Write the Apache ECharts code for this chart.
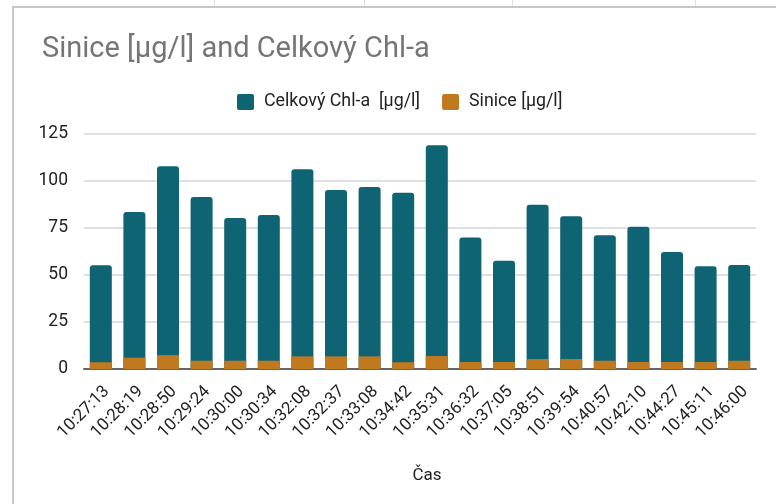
<!DOCTYPE html>
<html><head><meta charset="utf-8">
<script src="https://cdn.jsdelivr.net/npm/echarts@6/dist/echarts.min.js"></script>
<style>html,body{margin:0;padding:0;background:#fff}#c{width:776px;height:504px}</style>
</head><body><div id="c"></div>
<script>
var categories = ["10:27:13","10:28:19","10:28:50","10:29:24","10:30:00","10:30:34","10:32:08","10:32:37","10:33:08","10:34:42","10:35:31","10:36:32","10:37:05","10:38:51","10:39:54","10:40:57","10:42:10","10:44:27","10:45:11","10:46:00"];
var chlA = [55.2,83.5,107.8,91.5,80.3,81.9,106.2,95.2,96.8,93.8,119,70,57.6,87.4,81.2,71.1,75.7,62.2,54.6,55.3];
var sinice = [3.6,6.0,7.4,4.4,4.4,4.4,6.7,6.7,6.7,3.6,6.9,3.7,3.7,5.3,5.3,4.4,3.7,3.7,3.7,4.4];
var yTicks = [0,25,50,75,100,125];

var chart = echarts.init(document.getElementById('c'), null, {renderer:'canvas'});
var F = 'Roboto, "Noto Sans", sans-serif';
var ICON = 'path://M2,0 H15 A2,2 0 0 1 17,2 V14 A2,2 0 0 1 15,16 H2 A2,2 0 0 1 0,14 V2 A2,2 0 0 1 2,0 Z';
chart.setOption({
  animation:false,
  backgroundColor:'#fff',
  title:{text:'Sinice [µg/l] and Celkový Chl-a', left:37, top:30,
    textStyle:{fontFamily:F, fontSize:29, fontWeight:'normal', color:'#757575'}},
  legend:{top:88, left:232, itemWidth:17, itemHeight:16, itemGap:22,
    icon:ICON,
    textStyle:{fontFamily:F, fontSize:17.8, color:'#222', padding:[0,0,0,5]},
    data:['Celkový Chl-a  [µg/l]','Sinice [µg/l]']},
  grid:{left:84, right:20, top:134, bottom:135, containLabel:false},
  xAxis:{type:'category', data:categories,
    name:'Čas', nameLocation:'middle', nameGap:98,
    nameTextStyle:{fontFamily:F, fontSize:17, color:'#222', padding:[0,0,0,14]},
    axisTick:{show:false},
    axisLine:{lineStyle:{color:'#666', width:2}},
    axisLabel:{rotate:45, interval:0, fontFamily:F, fontSize:17, color:'#222', margin:14, verticalAlign:'top'}},
  yAxis:{type:'value', min:0, max:125, interval:25,
    axisLabel:{fontFamily:F, fontSize:17.5, color:'#222', margin:16,
      formatter:function(v){return yTicks.indexOf(v)>=0?String(v):'';}},
    splitLine:{lineStyle:{color:'#d6d6d6', width:1.5}},
    axisLine:{show:false}, axisTick:{show:false}},
  series:[
    {name:'Celkový Chl-a  [µg/l]', type:'bar', data:chlA, barWidth:22, barGap:'-100%',
      itemStyle:{color:'#0f6473', borderRadius:[3,3,0,0]}},
    {name:'Sinice [µg/l]', type:'bar', data:sinice, barWidth:22, barGap:'-100%', z:3,
      itemStyle:{color:'#c0791e'}}
  ],
  graphic:[
    {type:'line', shape:{x1:13, y1:7, x2:776, y2:7}, style:{stroke:'#c8c8c8', lineWidth:2}},
    {type:'line', shape:{x1:13, y1:6, x2:13, y2:504}, style:{stroke:'#c8c8c8', lineWidth:2}},
    {type:'line', shape:{x1:214.5, y1:0, x2:214.5, y2:6}, style:{stroke:'#e0e0e0', lineWidth:1}},
    {type:'line', shape:{x1:364.5, y1:0, x2:364.5, y2:6}, style:{stroke:'#e0e0e0', lineWidth:1}},
    {type:'line', shape:{x1:512.5, y1:0, x2:512.5, y2:6}, style:{stroke:'#e0e0e0', lineWidth:1}},
    {type:'line', shape:{x1:695.5, y1:0, x2:695.5, y2:6}, style:{stroke:'#e0e0e0', lineWidth:1}}
  ]
});
</script></body></html>
